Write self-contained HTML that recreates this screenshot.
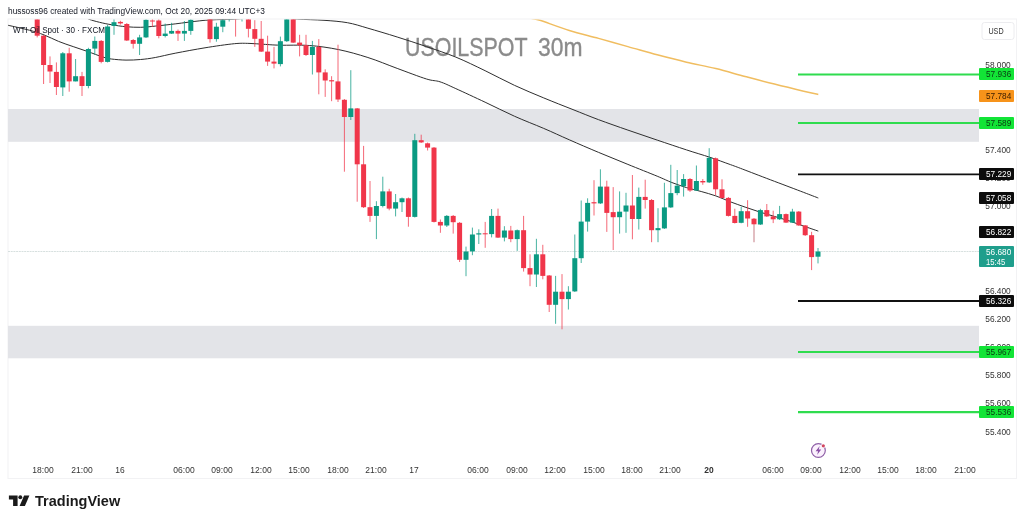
<!DOCTYPE html>
<html><head><meta charset="utf-8"><title>USOILSPOT 30m</title>
<style>
html,body{margin:0;padding:0;background:#fff}
body{width:1024px;height:522px;position:relative;z-index:0;overflow:hidden;font-family:"Liberation Sans","DejaVu Sans",sans-serif}
.t{position:absolute;white-space:nowrap;line-height:1}
.b{position:absolute;left:979.3px;width:35px;border-radius:1px;padding-left:6.3px;text-align:left;font-size:9.4px;white-space:nowrap;box-sizing:border-box;overflow:hidden}
.b span{display:inline-block;transform-origin:left center}
</style></head><body>
<svg width="1024" height="522" viewBox="0 0 1024 522" style="position:absolute;left:0;top:0">
<defs><clipPath id="cp"><rect x="8" y="19.4" width="972" height="459.1"/></clipPath></defs>
<rect x="8" y="19" width="1008.5" height="459.5" fill="none" stroke="#f2f2f4" stroke-width="1"/>
<g clip-path="url(#cp)">
<rect x="8" y="109" width="971" height="32.8" fill="#e3e4e8"/>
<rect x="8" y="325.8" width="971" height="32.5" fill="#e3e4e8"/>
<line x1="8" x2="979" y1="251.5" y2="251.5" stroke="#d3dddb" stroke-width="0.9" stroke-dasharray="2 0.7"/>
<path d="M8.2 25.3C11.7 26.1 23.3 28.6 29.3 30.2C35.3 31.8 39.1 33.0 44.0 34.9C48.9 36.8 53.7 39.4 58.6 41.4C63.5 43.4 68.3 44.9 73.2 46.6C78.1 48.3 83.0 49.9 87.9 51.6C92.8 53.3 98.6 55.7 102.5 56.9C106.4 58.1 107.4 58.5 111.3 59.0C115.2 59.5 121.1 60.0 126.0 60.1C130.9 60.2 135.7 59.9 140.6 59.5C145.5 59.1 149.4 58.6 155.3 57.5C161.2 56.4 167.5 54.7 175.8 53.1C184.1 51.5 195.2 49.4 205.0 47.8C214.8 46.2 227.1 44.4 234.4 43.7C241.7 43.0 244.1 43.3 249.0 43.4C253.9 43.5 258.5 44.0 263.7 44.3C268.9 44.6 272.4 45.0 280.0 45.2C287.6 45.4 299.5 44.8 309.3 45.5C319.1 46.2 328.8 47.6 338.6 49.6C348.4 51.6 358.1 54.4 367.9 57.5C377.7 60.6 387.4 64.8 397.2 68.4C407.0 72.0 419.4 76.8 426.5 79.0C433.6 81.2 435.1 80.2 440.0 81.8C444.9 83.4 448.3 85.2 455.8 88.6C463.3 92.0 475.3 97.6 485.1 102.2C494.9 106.8 504.6 111.8 514.4 116.2C524.2 120.6 534.6 124.5 543.7 128.4C552.9 132.3 560.1 135.8 569.3 139.8C578.4 143.8 588.8 148.3 598.6 152.4C608.4 156.5 618.1 160.4 627.9 164.4C637.7 168.4 649.9 173.2 657.2 176.2C664.5 179.2 666.9 180.6 671.8 182.5C676.7 184.4 681.6 186.1 686.5 187.6C691.4 189.1 696.3 190.1 701.2 191.5C706.1 192.9 710.9 194.2 715.8 195.9C720.7 197.6 725.5 199.9 730.4 201.8C735.3 203.7 740.2 205.4 745.1 207.1C750.0 208.8 754.8 210.4 759.7 212.0C764.6 213.6 769.5 214.9 774.4 216.4C779.3 217.9 784.1 219.2 789.0 220.8C793.9 222.4 798.8 224.4 803.7 226.1C808.6 227.8 815.9 230.3 818.3 231.1" fill="none" stroke="#2e2e2e" stroke-width="1.0"/>
<path d="M86.0 17.0C86.6 17.4 87.1 18.5 89.4 19.4C91.7 20.3 95.9 21.4 99.6 22.3C103.2 23.2 106.9 24.0 111.3 24.7C115.7 25.4 121.1 26.3 126.0 26.7C130.9 27.1 135.7 27.4 140.6 27.3C145.5 27.2 149.4 26.7 155.3 26.1C161.2 25.5 168.5 24.7 175.8 23.8C183.1 22.9 193.3 21.5 199.2 20.9C205.1 20.2 207.2 20.1 211.0 19.9C214.8 19.7 218.5 19.6 222.0 19.5C225.5 19.4 228.7 19.4 232.0 19.3C235.3 19.2 240.3 18.7 242.0 18.6" fill="none" stroke="#2e2e2e" stroke-width="1.0"/>
<path d="M280.0 17.5C282.9 17.8 290.3 18.6 297.6 19.1C304.9 19.6 315.7 19.7 324.0 20.3C332.3 20.9 340.1 21.4 347.4 22.7C354.7 24.0 359.6 25.8 367.9 28.2C376.2 30.6 387.4 33.9 397.2 37.0C407.0 40.1 416.7 43.2 426.5 46.6C436.3 50.0 446.0 53.1 455.8 57.1C465.6 61.1 475.3 66.0 485.1 70.7C494.9 75.4 504.6 80.8 514.4 85.3C524.2 89.8 533.9 93.9 543.7 97.9C553.5 102.0 563.9 106.0 573.0 109.6C582.1 113.2 589.5 116.3 598.6 119.7C607.8 123.1 618.1 126.7 627.9 130.1C637.7 133.5 647.4 136.8 657.2 140.1C667.0 143.4 677.7 147.0 686.5 149.9C695.3 152.8 702.7 154.9 710.0 157.3C717.3 159.8 724.5 162.5 730.4 164.6C736.2 166.7 737.8 167.3 745.1 170.1C752.4 172.9 764.6 177.6 774.4 181.3C784.2 185.0 796.4 189.6 803.7 192.4C811.0 195.2 815.9 197.1 818.3 198.0" fill="none" stroke="#2e2e2e" stroke-width="1.0"/>
<path d="M520.0 14.4C522.0 15.1 528.7 17.5 532.0 18.5C535.3 19.5 533.8 18.3 540.0 20.3C546.2 22.3 559.5 27.5 569.3 30.5C579.1 33.5 588.8 35.7 598.6 38.4C608.4 41.1 618.1 43.9 627.9 46.6C637.7 49.3 647.4 52.2 657.2 54.8C667.0 57.4 676.7 59.9 686.5 62.2C696.3 64.5 706.0 66.2 715.8 68.6C725.6 71.0 735.3 73.9 745.1 76.5C754.9 79.1 764.6 81.7 774.4 84.1C784.2 86.6 796.4 89.5 803.7 91.2C811.0 92.9 815.9 93.9 818.3 94.4" fill="none" stroke="#f0bd60" stroke-width="1.5"/>
<line x1="37.2" x2="37.2" y1="10.0" y2="37.4" stroke="#f0364a" stroke-width="0.75"/>
<rect x="34.7" y="10.0" width="5.0" height="25.7" fill="#f0364a"/>
<line x1="43.6" x2="43.6" y1="35.0" y2="84.0" stroke="#f0364a" stroke-width="0.75"/>
<rect x="41.1" y="35.7" width="5.0" height="29.3" fill="#f0364a"/>
<line x1="50.0" x2="50.0" y1="56.4" y2="83.0" stroke="#f0364a" stroke-width="0.75"/>
<rect x="47.5" y="65.0" width="5.0" height="6.5" fill="#f0364a"/>
<line x1="56.4" x2="56.4" y1="62.4" y2="95.0" stroke="#f0364a" stroke-width="0.75"/>
<rect x="53.9" y="71.9" width="5.0" height="15.1" fill="#f0364a"/>
<line x1="62.8" x2="62.8" y1="52.0" y2="96.0" stroke="#0a9a82" stroke-width="0.75"/>
<rect x="60.3" y="53.3" width="5.0" height="34.1" fill="#0a9a82"/>
<line x1="69.2" x2="69.2" y1="47.8" y2="91.7" stroke="#f0364a" stroke-width="0.75"/>
<rect x="66.7" y="53.3" width="5.0" height="28.1" fill="#f0364a"/>
<line x1="75.6" x2="75.6" y1="59.0" y2="81.4" stroke="#0a9a82" stroke-width="0.75"/>
<rect x="73.1" y="76.2" width="5.0" height="5.2" fill="#0a9a82"/>
<line x1="82.0" x2="82.0" y1="71.9" y2="96.0" stroke="#f0364a" stroke-width="0.75"/>
<rect x="79.5" y="76.2" width="5.0" height="9.8" fill="#f0364a"/>
<line x1="88.4" x2="88.4" y1="47.8" y2="88.3" stroke="#0a9a82" stroke-width="0.75"/>
<rect x="85.9" y="49.0" width="5.0" height="37.0" fill="#0a9a82"/>
<line x1="94.8" x2="94.8" y1="36.5" y2="54.7" stroke="#0a9a82" stroke-width="0.75"/>
<rect x="92.3" y="40.9" width="5.0" height="7.7" fill="#0a9a82"/>
<line x1="101.2" x2="101.2" y1="40.0" y2="63.3" stroke="#f0364a" stroke-width="0.75"/>
<rect x="98.7" y="40.9" width="5.0" height="21.0" fill="#f0364a"/>
<line x1="107.6" x2="107.6" y1="25.0" y2="62.5" stroke="#0a9a82" stroke-width="0.75"/>
<rect x="105.1" y="26.5" width="5.0" height="35.4" fill="#0a9a82"/>
<line x1="114.0" x2="114.0" y1="17.0" y2="34.8" stroke="#0a9a82" stroke-width="0.75"/>
<rect x="111.5" y="22.2" width="5.0" height="3.7" fill="#0a9a82"/>
<line x1="120.4" x2="120.4" y1="20.8" y2="24.6" stroke="#f0364a" stroke-width="0.75"/>
<rect x="117.9" y="21.9" width="5.0" height="1.5" fill="#f0364a"/>
<line x1="126.8" x2="126.8" y1="23.0" y2="41.0" stroke="#f0364a" stroke-width="0.75"/>
<rect x="124.3" y="24.0" width="5.0" height="16.5" fill="#f0364a"/>
<line x1="133.2" x2="133.2" y1="39.0" y2="48.6" stroke="#f0364a" stroke-width="0.75"/>
<rect x="130.7" y="40.0" width="5.0" height="3.8" fill="#f0364a"/>
<line x1="139.6" x2="139.6" y1="34.8" y2="55.0" stroke="#0a9a82" stroke-width="0.75"/>
<rect x="137.1" y="37.4" width="5.0" height="6.4" fill="#0a9a82"/>
<line x1="146.0" x2="146.0" y1="15.0" y2="38.0" stroke="#0a9a82" stroke-width="0.75"/>
<rect x="143.5" y="19.8" width="5.0" height="17.6" fill="#0a9a82"/>
<line x1="152.4" x2="152.4" y1="15.0" y2="27.0" stroke="#f0364a" stroke-width="0.75"/>
<rect x="149.9" y="20.5" width="5.0" height="1.0" fill="#f0364a"/>
<line x1="158.8" x2="158.8" y1="15.0" y2="38.3" stroke="#f0364a" stroke-width="0.75"/>
<rect x="156.3" y="20.5" width="5.0" height="15.5" fill="#f0364a"/>
<line x1="165.2" x2="165.2" y1="23.6" y2="37.4" stroke="#0a9a82" stroke-width="0.75"/>
<rect x="162.7" y="33.6" width="5.0" height="2.4" fill="#0a9a82"/>
<line x1="171.6" x2="171.6" y1="22.8" y2="34.0" stroke="#0a9a82" stroke-width="0.75"/>
<rect x="169.1" y="30.9" width="5.0" height="2.7" fill="#0a9a82"/>
<line x1="178.0" x2="178.0" y1="29.5" y2="40.9" stroke="#f0364a" stroke-width="0.75"/>
<rect x="175.5" y="30.9" width="5.0" height="2.7" fill="#f0364a"/>
<line x1="184.4" x2="184.4" y1="21.0" y2="40.9" stroke="#0a9a82" stroke-width="0.75"/>
<rect x="181.9" y="30.9" width="5.0" height="2.7" fill="#0a9a82"/>
<line x1="190.8" x2="190.8" y1="15.0" y2="34.8" stroke="#0a9a82" stroke-width="0.75"/>
<rect x="188.3" y="19.8" width="5.0" height="11.1" fill="#0a9a82"/>
<line x1="197.2" x2="197.2" y1="2.0" y2="16.0" stroke="#0a9a82" stroke-width="0.75"/>
<rect x="194.7" y="5.0" width="5.0" height="10.0" fill="#0a9a82"/>
<line x1="203.6" x2="203.6" y1="2.0" y2="16.0" stroke="#f0364a" stroke-width="0.75"/>
<rect x="201.1" y="5.0" width="5.0" height="10.0" fill="#f0364a"/>
<line x1="210.0" x2="210.0" y1="10.0" y2="42.6" stroke="#f0364a" stroke-width="0.75"/>
<rect x="207.5" y="15.0" width="5.0" height="24.1" fill="#f0364a"/>
<line x1="216.4" x2="216.4" y1="22.8" y2="41.7" stroke="#0a9a82" stroke-width="0.75"/>
<rect x="213.9" y="26.7" width="5.0" height="12.4" fill="#0a9a82"/>
<line x1="222.8" x2="222.8" y1="15.0" y2="32.2" stroke="#0a9a82" stroke-width="0.75"/>
<rect x="220.3" y="20.2" width="5.0" height="6.5" fill="#0a9a82"/>
<line x1="229.2" x2="229.2" y1="5.0" y2="21.5" stroke="#0a9a82" stroke-width="0.75"/>
<rect x="226.7" y="10.0" width="5.0" height="8.0" fill="#0a9a82"/>
<line x1="235.6" x2="235.6" y1="5.0" y2="36.6" stroke="#f0364a" stroke-width="0.75"/>
<rect x="233.1" y="8.0" width="5.0" height="8.0" fill="#f0364a"/>
<line x1="242.0" x2="242.0" y1="5.0" y2="21.5" stroke="#0a9a82" stroke-width="0.75"/>
<rect x="239.5" y="8.0" width="5.0" height="8.0" fill="#0a9a82"/>
<line x1="248.4" x2="248.4" y1="10.0" y2="37.4" stroke="#f0364a" stroke-width="0.75"/>
<rect x="245.9" y="15.0" width="5.0" height="13.8" fill="#f0364a"/>
<line x1="254.8" x2="254.8" y1="20.2" y2="46.9" stroke="#f0364a" stroke-width="0.75"/>
<rect x="252.3" y="29.1" width="5.0" height="9.7" fill="#f0364a"/>
<line x1="261.2" x2="261.2" y1="21.0" y2="52.0" stroke="#f0364a" stroke-width="0.75"/>
<rect x="258.7" y="38.8" width="5.0" height="12.8" fill="#f0364a"/>
<line x1="267.6" x2="267.6" y1="35.7" y2="65.9" stroke="#f0364a" stroke-width="0.75"/>
<rect x="265.1" y="51.6" width="5.0" height="10.0" fill="#f0364a"/>
<line x1="274.0" x2="274.0" y1="46.9" y2="68.4" stroke="#f0364a" stroke-width="0.75"/>
<rect x="271.5" y="61.6" width="5.0" height="2.0" fill="#f0364a"/>
<line x1="280.4" x2="280.4" y1="36.6" y2="66.4" stroke="#0a9a82" stroke-width="0.75"/>
<rect x="277.9" y="41.2" width="5.0" height="22.9" fill="#0a9a82"/>
<line x1="286.8" x2="286.8" y1="10.0" y2="42.0" stroke="#0a9a82" stroke-width="0.75"/>
<rect x="284.3" y="15.0" width="5.0" height="26.2" fill="#0a9a82"/>
<line x1="293.2" x2="293.2" y1="10.0" y2="43.0" stroke="#f0364a" stroke-width="0.75"/>
<rect x="290.7" y="15.0" width="5.0" height="27.6" fill="#f0364a"/>
<line x1="299.6" x2="299.6" y1="34.8" y2="56.4" stroke="#f0364a" stroke-width="0.75"/>
<rect x="297.1" y="42.6" width="5.0" height="2.6" fill="#f0364a"/>
<line x1="306.0" x2="306.0" y1="34.8" y2="56.0" stroke="#f0364a" stroke-width="0.75"/>
<rect x="303.5" y="45.2" width="5.0" height="9.8" fill="#f0364a"/>
<line x1="312.4" x2="312.4" y1="40.9" y2="74.5" stroke="#0a9a82" stroke-width="0.75"/>
<rect x="309.9" y="46.9" width="5.0" height="8.1" fill="#0a9a82"/>
<line x1="318.8" x2="318.8" y1="39.1" y2="94.3" stroke="#f0364a" stroke-width="0.75"/>
<rect x="316.3" y="46.9" width="5.0" height="25.5" fill="#f0364a"/>
<line x1="325.2" x2="325.2" y1="69.3" y2="96.9" stroke="#f0364a" stroke-width="0.75"/>
<rect x="322.7" y="72.4" width="5.0" height="8.1" fill="#f0364a"/>
<line x1="331.6" x2="331.6" y1="76.2" y2="101.2" stroke="#f0364a" stroke-width="0.75"/>
<rect x="329.1" y="80.2" width="5.0" height="1.2" fill="#f0364a"/>
<line x1="338.0" x2="338.0" y1="44.7" y2="102.0" stroke="#f0364a" stroke-width="0.75"/>
<rect x="335.5" y="81.4" width="5.0" height="18.1" fill="#f0364a"/>
<line x1="344.4" x2="344.4" y1="99.0" y2="171.7" stroke="#f0364a" stroke-width="0.75"/>
<rect x="341.9" y="99.8" width="5.0" height="17.2" fill="#f0364a"/>
<line x1="350.8" x2="350.8" y1="70.2" y2="120.0" stroke="#0a9a82" stroke-width="0.75"/>
<rect x="348.3" y="108.4" width="5.0" height="8.6" fill="#0a9a82"/>
<line x1="357.2" x2="357.2" y1="108.0" y2="201.7" stroke="#f0364a" stroke-width="0.75"/>
<rect x="354.7" y="108.4" width="5.0" height="55.9" fill="#f0364a"/>
<line x1="363.6" x2="363.6" y1="145.9" y2="208.0" stroke="#f0364a" stroke-width="0.75"/>
<rect x="361.1" y="164.3" width="5.0" height="42.9" fill="#f0364a"/>
<line x1="370.0" x2="370.0" y1="181.0" y2="221.9" stroke="#f0364a" stroke-width="0.75"/>
<rect x="367.5" y="207.2" width="5.0" height="8.7" fill="#f0364a"/>
<line x1="376.4" x2="376.4" y1="201.2" y2="239.1" stroke="#0a9a82" stroke-width="0.75"/>
<rect x="373.9" y="206.0" width="5.0" height="9.9" fill="#0a9a82"/>
<line x1="382.8" x2="382.8" y1="176.7" y2="207.4" stroke="#0a9a82" stroke-width="0.75"/>
<rect x="380.3" y="191.4" width="5.0" height="14.6" fill="#0a9a82"/>
<line x1="389.2" x2="389.2" y1="188.8" y2="210.3" stroke="#f0364a" stroke-width="0.75"/>
<rect x="386.7" y="191.4" width="5.0" height="17.2" fill="#f0364a"/>
<line x1="395.6" x2="395.6" y1="194.0" y2="216.4" stroke="#0a9a82" stroke-width="0.75"/>
<rect x="393.1" y="202.2" width="5.0" height="6.4" fill="#0a9a82"/>
<line x1="402.0" x2="402.0" y1="197.5" y2="212.0" stroke="#0a9a82" stroke-width="0.75"/>
<rect x="399.5" y="198.3" width="5.0" height="3.9" fill="#0a9a82"/>
<line x1="408.4" x2="408.4" y1="197.5" y2="226.7" stroke="#f0364a" stroke-width="0.75"/>
<rect x="405.9" y="198.3" width="5.0" height="18.6" fill="#f0364a"/>
<line x1="414.8" x2="414.8" y1="133.8" y2="217.5" stroke="#0a9a82" stroke-width="0.75"/>
<rect x="412.3" y="140.2" width="5.0" height="76.7" fill="#0a9a82"/>
<line x1="421.2" x2="421.2" y1="134.7" y2="143.0" stroke="#f0364a" stroke-width="0.75"/>
<rect x="418.7" y="140.2" width="5.0" height="2.2" fill="#f0364a"/>
<line x1="427.6" x2="427.6" y1="142.5" y2="150.5" stroke="#f0364a" stroke-width="0.75"/>
<rect x="425.1" y="143.3" width="5.0" height="4.3" fill="#f0364a"/>
<line x1="434.0" x2="434.0" y1="147.0" y2="222.5" stroke="#f0364a" stroke-width="0.75"/>
<rect x="431.5" y="147.6" width="5.0" height="74.3" fill="#f0364a"/>
<line x1="440.4" x2="440.4" y1="219.5" y2="232.8" stroke="#f0364a" stroke-width="0.75"/>
<rect x="437.9" y="221.9" width="5.0" height="3.6" fill="#f0364a"/>
<line x1="446.8" x2="446.8" y1="215.0" y2="227.0" stroke="#0a9a82" stroke-width="0.75"/>
<rect x="444.3" y="215.9" width="5.0" height="9.6" fill="#0a9a82"/>
<line x1="453.2" x2="453.2" y1="215.0" y2="233.6" stroke="#f0364a" stroke-width="0.75"/>
<rect x="450.7" y="215.9" width="5.0" height="6.3" fill="#f0364a"/>
<line x1="459.6" x2="459.6" y1="222.0" y2="262.0" stroke="#f0364a" stroke-width="0.75"/>
<rect x="457.1" y="222.8" width="5.0" height="37.0" fill="#f0364a"/>
<line x1="466.0" x2="466.0" y1="246.6" y2="276.2" stroke="#0a9a82" stroke-width="0.75"/>
<rect x="463.5" y="251.5" width="5.0" height="8.3" fill="#0a9a82"/>
<line x1="472.4" x2="472.4" y1="227.6" y2="255.2" stroke="#0a9a82" stroke-width="0.75"/>
<rect x="469.9" y="234.5" width="5.0" height="16.9" fill="#0a9a82"/>
<line x1="478.8" x2="478.8" y1="229.3" y2="244.0" stroke="#0a9a82" stroke-width="0.75"/>
<rect x="476.3" y="233.3" width="5.0" height="1.2" fill="#0a9a82"/>
<line x1="485.2" x2="485.2" y1="221.9" y2="247.8" stroke="#f0364a" stroke-width="0.75"/>
<rect x="482.7" y="233.3" width="5.0" height="1.0" fill="#f0364a"/>
<line x1="491.6" x2="491.6" y1="209.0" y2="237.4" stroke="#0a9a82" stroke-width="0.75"/>
<rect x="489.1" y="215.9" width="5.0" height="18.2" fill="#0a9a82"/>
<line x1="498.0" x2="498.0" y1="208.6" y2="238.0" stroke="#f0364a" stroke-width="0.75"/>
<rect x="495.5" y="215.9" width="5.0" height="21.7" fill="#f0364a"/>
<line x1="504.4" x2="504.4" y1="226.2" y2="241.4" stroke="#0a9a82" stroke-width="0.75"/>
<rect x="501.9" y="230.5" width="5.0" height="7.1" fill="#0a9a82"/>
<line x1="510.8" x2="510.8" y1="225.9" y2="242.2" stroke="#f0364a" stroke-width="0.75"/>
<rect x="508.3" y="230.5" width="5.0" height="8.6" fill="#f0364a"/>
<line x1="517.2" x2="517.2" y1="229.5" y2="250.9" stroke="#0a9a82" stroke-width="0.75"/>
<rect x="514.7" y="230.2" width="5.0" height="8.9" fill="#0a9a82"/>
<line x1="523.6" x2="523.6" y1="215.9" y2="271.6" stroke="#f0364a" stroke-width="0.75"/>
<rect x="521.1" y="230.2" width="5.0" height="37.9" fill="#f0364a"/>
<line x1="530.0" x2="530.0" y1="254.3" y2="286.2" stroke="#f0364a" stroke-width="0.75"/>
<rect x="527.5" y="268.1" width="5.0" height="6.4" fill="#f0364a"/>
<line x1="536.4" x2="536.4" y1="238.8" y2="287.0" stroke="#0a9a82" stroke-width="0.75"/>
<rect x="533.9" y="254.3" width="5.0" height="20.2" fill="#0a9a82"/>
<line x1="542.8" x2="542.8" y1="244.8" y2="279.3" stroke="#f0364a" stroke-width="0.75"/>
<rect x="540.3" y="254.3" width="5.0" height="21.6" fill="#f0364a"/>
<line x1="549.2" x2="549.2" y1="275.0" y2="312.0" stroke="#f0364a" stroke-width="0.75"/>
<rect x="546.7" y="275.5" width="5.0" height="29.3" fill="#f0364a"/>
<line x1="555.6" x2="555.6" y1="275.9" y2="323.8" stroke="#0a9a82" stroke-width="0.75"/>
<rect x="553.1" y="291.7" width="5.0" height="13.1" fill="#0a9a82"/>
<line x1="562.0" x2="562.0" y1="274.1" y2="329.3" stroke="#f0364a" stroke-width="0.75"/>
<rect x="559.5" y="291.7" width="5.0" height="7.4" fill="#f0364a"/>
<line x1="568.4" x2="568.4" y1="286.2" y2="309.5" stroke="#0a9a82" stroke-width="0.75"/>
<rect x="565.9" y="291.7" width="5.0" height="7.4" fill="#0a9a82"/>
<line x1="574.8" x2="574.8" y1="234.5" y2="292.0" stroke="#0a9a82" stroke-width="0.75"/>
<rect x="572.3" y="258.2" width="5.0" height="33.2" fill="#0a9a82"/>
<line x1="581.2" x2="581.2" y1="200.5" y2="263.0" stroke="#0a9a82" stroke-width="0.75"/>
<rect x="578.7" y="221.6" width="5.0" height="36.6" fill="#0a9a82"/>
<line x1="587.6" x2="587.6" y1="198.3" y2="231.6" stroke="#0a9a82" stroke-width="0.75"/>
<rect x="585.1" y="202.9" width="5.0" height="18.7" fill="#0a9a82"/>
<line x1="594.0" x2="594.0" y1="180.2" y2="215.5" stroke="#f0364a" stroke-width="0.75"/>
<rect x="591.5" y="202.2" width="5.0" height="1.2" fill="#f0364a"/>
<line x1="600.4" x2="600.4" y1="169.3" y2="204.0" stroke="#0a9a82" stroke-width="0.75"/>
<rect x="597.9" y="186.6" width="5.0" height="16.8" fill="#0a9a82"/>
<line x1="606.8" x2="606.8" y1="180.7" y2="231.9" stroke="#f0364a" stroke-width="0.75"/>
<rect x="604.3" y="186.6" width="5.0" height="26.3" fill="#f0364a"/>
<line x1="613.2" x2="613.2" y1="187.1" y2="250.0" stroke="#f0364a" stroke-width="0.75"/>
<rect x="610.7" y="212.1" width="5.0" height="5.1" fill="#f0364a"/>
<line x1="619.6" x2="619.6" y1="191.4" y2="233.6" stroke="#0a9a82" stroke-width="0.75"/>
<rect x="617.1" y="211.7" width="5.0" height="5.5" fill="#0a9a82"/>
<line x1="626.0" x2="626.0" y1="192.8" y2="232.8" stroke="#0a9a82" stroke-width="0.75"/>
<rect x="623.5" y="205.5" width="5.0" height="6.1" fill="#0a9a82"/>
<line x1="632.4" x2="632.4" y1="175.0" y2="239.3" stroke="#f0364a" stroke-width="0.75"/>
<rect x="629.9" y="205.5" width="5.0" height="13.5" fill="#f0364a"/>
<line x1="638.8" x2="638.8" y1="187.6" y2="229.5" stroke="#0a9a82" stroke-width="0.75"/>
<rect x="636.3" y="196.9" width="5.0" height="22.1" fill="#0a9a82"/>
<line x1="645.2" x2="645.2" y1="179.7" y2="208.6" stroke="#f0364a" stroke-width="0.75"/>
<rect x="642.7" y="196.9" width="5.0" height="3.1" fill="#f0364a"/>
<line x1="651.6" x2="651.6" y1="199.0" y2="242.2" stroke="#f0364a" stroke-width="0.75"/>
<rect x="649.1" y="200.0" width="5.0" height="30.2" fill="#f0364a"/>
<line x1="658.0" x2="658.0" y1="208.2" y2="242.2" stroke="#0a9a82" stroke-width="0.75"/>
<rect x="655.5" y="228.1" width="5.0" height="2.1" fill="#0a9a82"/>
<line x1="664.4" x2="664.4" y1="182.8" y2="229.0" stroke="#0a9a82" stroke-width="0.75"/>
<rect x="661.9" y="207.4" width="5.0" height="21.0" fill="#0a9a82"/>
<line x1="670.8" x2="670.8" y1="164.8" y2="208.0" stroke="#0a9a82" stroke-width="0.75"/>
<rect x="668.3" y="193.1" width="5.0" height="14.3" fill="#0a9a82"/>
<line x1="677.2" x2="677.2" y1="170.0" y2="195.2" stroke="#0a9a82" stroke-width="0.75"/>
<rect x="674.7" y="185.7" width="5.0" height="7.4" fill="#0a9a82"/>
<line x1="683.6" x2="683.6" y1="174.1" y2="196.6" stroke="#0a9a82" stroke-width="0.75"/>
<rect x="681.1" y="179.0" width="5.0" height="7.2" fill="#0a9a82"/>
<line x1="690.0" x2="690.0" y1="178.0" y2="191.9" stroke="#f0364a" stroke-width="0.75"/>
<rect x="687.5" y="179.0" width="5.0" height="11.5" fill="#f0364a"/>
<line x1="696.4" x2="696.4" y1="165.5" y2="191.0" stroke="#0a9a82" stroke-width="0.75"/>
<rect x="693.9" y="181.0" width="5.0" height="9.5" fill="#0a9a82"/>
<line x1="702.8" x2="702.8" y1="179.0" y2="184.8" stroke="#f0364a" stroke-width="0.75"/>
<rect x="700.3" y="181.0" width="5.0" height="1.4" fill="#f0364a"/>
<line x1="709.2" x2="709.2" y1="148.2" y2="183.0" stroke="#0a9a82" stroke-width="0.75"/>
<rect x="706.7" y="157.8" width="5.0" height="24.6" fill="#0a9a82"/>
<line x1="715.6" x2="715.6" y1="157.5" y2="195.2" stroke="#f0364a" stroke-width="0.75"/>
<rect x="713.1" y="158.3" width="5.0" height="31.0" fill="#f0364a"/>
<line x1="722.0" x2="722.0" y1="179.3" y2="198.5" stroke="#f0364a" stroke-width="0.75"/>
<rect x="719.5" y="189.3" width="5.0" height="8.7" fill="#f0364a"/>
<line x1="728.4" x2="728.4" y1="197.0" y2="216.5" stroke="#f0364a" stroke-width="0.75"/>
<rect x="725.9" y="197.9" width="5.0" height="18.0" fill="#f0364a"/>
<line x1="734.8" x2="734.8" y1="208.7" y2="223.5" stroke="#f0364a" stroke-width="0.75"/>
<rect x="732.3" y="215.9" width="5.0" height="7.1" fill="#f0364a"/>
<line x1="741.2" x2="741.2" y1="206.8" y2="223.3" stroke="#0a9a82" stroke-width="0.75"/>
<rect x="738.7" y="211.2" width="5.0" height="11.6" fill="#0a9a82"/>
<line x1="747.6" x2="747.6" y1="200.2" y2="226.8" stroke="#f0364a" stroke-width="0.75"/>
<rect x="745.1" y="211.2" width="5.0" height="7.3" fill="#f0364a"/>
<line x1="754.0" x2="754.0" y1="224.3" y2="242.3" stroke="#d6a3a8" stroke-width="1.4"/>
<line x1="754.0" x2="754.0" y1="218.0" y2="224.3" stroke="#f0364a" stroke-width="0.75"/>
<rect x="751.5" y="218.7" width="5.0" height="5.6" fill="#f0364a"/>
<line x1="760.4" x2="760.4" y1="208.8" y2="225.0" stroke="#0a9a82" stroke-width="0.75"/>
<rect x="757.9" y="210.1" width="5.0" height="14.4" fill="#0a9a82"/>
<line x1="766.8" x2="766.8" y1="204.0" y2="217.0" stroke="#f0364a" stroke-width="0.75"/>
<rect x="764.3" y="210.1" width="5.0" height="6.3" fill="#f0364a"/>
<line x1="773.2" x2="773.2" y1="210.7" y2="223.1" stroke="#f0364a" stroke-width="0.75"/>
<rect x="770.7" y="216.4" width="5.0" height="2.9" fill="#f0364a"/>
<line x1="779.6" x2="779.6" y1="205.9" y2="220.0" stroke="#0a9a82" stroke-width="0.75"/>
<rect x="777.1" y="214.1" width="5.0" height="5.2" fill="#0a9a82"/>
<line x1="786.0" x2="786.0" y1="213.5" y2="223.0" stroke="#f0364a" stroke-width="0.75"/>
<rect x="783.5" y="214.1" width="5.0" height="8.5" fill="#f0364a"/>
<line x1="792.4" x2="792.4" y1="208.8" y2="223.0" stroke="#0a9a82" stroke-width="0.75"/>
<rect x="789.9" y="211.6" width="5.0" height="11.0" fill="#0a9a82"/>
<line x1="798.8" x2="798.8" y1="211.0" y2="226.0" stroke="#f0364a" stroke-width="0.75"/>
<rect x="796.3" y="211.6" width="5.0" height="13.8" fill="#f0364a"/>
<line x1="805.2" x2="805.2" y1="225.0" y2="236.0" stroke="#f0364a" stroke-width="0.75"/>
<rect x="802.7" y="225.4" width="5.0" height="9.8" fill="#f0364a"/>
<line x1="811.6" x2="811.6" y1="231.8" y2="270.1" stroke="#f0364a" stroke-width="0.75"/>
<rect x="809.1" y="235.2" width="5.0" height="21.9" fill="#f0364a"/>
<line x1="818.0" x2="818.0" y1="248.0" y2="263.4" stroke="#0a9a82" stroke-width="0.75"/>
<rect x="815.5" y="251.5" width="5.0" height="5.2" fill="#0a9a82"/>
</g>
<line x1="798" x2="980" y1="74.5" y2="74.5" stroke="#2fdc4e" stroke-width="2.2"/>
<line x1="798" x2="980" y1="123.0" y2="123.0" stroke="#2fdc4e" stroke-width="2.2"/>
<line x1="798" x2="980" y1="174.3" y2="174.3" stroke="#111" stroke-width="1.8"/>
<line x1="798" x2="980" y1="301.0" y2="301.0" stroke="#111" stroke-width="1.8"/>
<line x1="798" x2="980" y1="352.0" y2="352.0" stroke="#2fdc4e" stroke-width="2.2"/>
<line x1="798" x2="980" y1="412.2" y2="412.2" stroke="#2fdc4e" stroke-width="2.2"/>
<rect x="982" y="22.5" width="32" height="17" rx="2.5" fill="#fff" stroke="#ececef" stroke-width="1"/>
<g transform="translate(818.4,450.5)"><circle r="6.9" fill="#fbf1fd" stroke="#8e5ea6" stroke-width="1.2"/><path d="M1.3 -4.4 L-2.8 0.7 L-0.3 0.7 L-1.3 4.4 L2.8 -0.9 L0.3 -0.9 Z" fill="#8a4fa6"/><circle cx="4.9" cy="-4.7" r="2.3" fill="#fff"/><circle cx="4.9" cy="-4.7" r="1.6" fill="#d2455f"/></g>
<g fill="#1a1a1a"><path d="M8.9 495.4h8.7v10.5h-4.5v-6.3H8.9z"/><circle cx="20.3" cy="497.3" r="1.95"/><path d="M24.1 495.4h5.3l-4.5 10.5h-5.3z"/></g>
</svg>
<div class="t" style="left:7.8px;top:11.9px;font-size:9.2px;color:#131722;font-weight:normal;letter-spacing:0px;transform:translate(0,-50%) scaleX(0.9064);transform-origin:left center;">hussoss96 created with TradingView.com, Oct 20, 2025 09:44 UTC+3</div>
<div class="t" style="left:13.2px;top:30.3px;font-size:9px;color:#131722;font-weight:normal;letter-spacing:0px;transform:translate(0,-50%) scaleX(0.8974);transform-origin:left center;">WTI Oil Spot · 30 · FXCM</div>
<div class="t" style="left:404.5px;top:47.3px;font-size:25px;color:#8b8b8b;font-weight:normal;letter-spacing:0px;transform:translate(0,-50%) scaleX(0.8561);z-index:-1;-webkit-text-stroke:0.35px #8b8b8b;transform-origin:left center;">USOILSPOT</div>
<div class="t" style="left:537.5px;top:47.3px;font-size:25px;color:#8b8b8b;font-weight:normal;letter-spacing:0px;transform:translate(0,-50%) scaleX(0.9149);z-index:-1;-webkit-text-stroke:0.35px #8b8b8b;transform-origin:left center;">30m</div>
<div class="t" style="left:995.7px;top:30.8px;font-size:8.8px;color:#333;font-weight:normal;letter-spacing:0px;transform:translate(-50%,-50%) scaleX(0.8128);transform-origin:center;">USD</div>
<div class="t" style="left:998.0px;top:64.9px;font-size:9.4px;color:#333;font-weight:normal;letter-spacing:0px;transform:translate(-50%,-50%) scaleX(0.8889);transform-origin:center;">58.000</div>
<div class="t" style="left:998.0px;top:149.5px;font-size:9.4px;color:#333;font-weight:normal;letter-spacing:0px;transform:translate(-50%,-50%) scaleX(0.8889);transform-origin:center;">57.400</div>
<div class="t" style="left:998.0px;top:177.7px;font-size:9.4px;color:#333;font-weight:normal;letter-spacing:0px;transform:translate(-50%,-50%) scaleX(0.8889);transform-origin:center;">57.200</div>
<div class="t" style="left:998.0px;top:205.9px;font-size:9.4px;color:#333;font-weight:normal;letter-spacing:0px;transform:translate(-50%,-50%) scaleX(0.8889);transform-origin:center;">57.000</div>
<div class="t" style="left:998.0px;top:290.5px;font-size:9.4px;color:#333;font-weight:normal;letter-spacing:0px;transform:translate(-50%,-50%) scaleX(0.8889);transform-origin:center;">56.400</div>
<div class="t" style="left:998.0px;top:318.7px;font-size:9.4px;color:#333;font-weight:normal;letter-spacing:0px;transform:translate(-50%,-50%) scaleX(0.8889);transform-origin:center;">56.200</div>
<div class="t" style="left:998.0px;top:346.9px;font-size:9.4px;color:#333;font-weight:normal;letter-spacing:0px;transform:translate(-50%,-50%) scaleX(0.8889);transform-origin:center;">56.000</div>
<div class="t" style="left:998.0px;top:375.1px;font-size:9.4px;color:#333;font-weight:normal;letter-spacing:0px;transform:translate(-50%,-50%) scaleX(0.8889);transform-origin:center;">55.800</div>
<div class="t" style="left:998.0px;top:403.3px;font-size:9.4px;color:#333;font-weight:normal;letter-spacing:0px;transform:translate(-50%,-50%) scaleX(0.8889);transform-origin:center;">55.600</div>
<div class="t" style="left:998.0px;top:431.5px;font-size:9.4px;color:#333;font-weight:normal;letter-spacing:0px;transform:translate(-50%,-50%) scaleX(0.8889);transform-origin:center;">55.400</div>
<div class="b" style="top:68.3px;height:11.8px;line-height:11.8px;background:#12e436;color:#0a3a12"><span style="transform:scaleX(0.880)">57.936</span></div>
<div class="b" style="top:90.3px;height:11.8px;line-height:11.8px;background:#f7931a;color:#3a1c00"><span style="transform:scaleX(0.880)">57.784</span></div>
<div class="b" style="top:116.8px;height:11.8px;line-height:11.8px;background:#12e436;color:#0a3a12"><span style="transform:scaleX(0.880)">57.589</span></div>
<div class="b" style="top:168.1px;height:11.8px;line-height:11.8px;background:#0c0c0c;color:#fff"><span style="transform:scaleX(0.880)">57.229</span></div>
<div class="b" style="top:192.1px;height:11.8px;line-height:11.8px;background:#0c0c0c;color:#fff"><span style="transform:scaleX(0.880)">57.058</span></div>
<div class="b" style="top:225.8px;height:11.8px;line-height:11.8px;background:#0c0c0c;color:#fff"><span style="transform:scaleX(0.880)">56.822</span></div>
<div class="b" style="top:245.8px;height:21.2px;background:#1f9e8c;color:#fff;line-height:9.6px;padding-top:1.2px"><span style="transform:scaleX(0.880)">56.680</span><br><span style="transform:scaleX(0.816)">15:45</span></div>
<div class="b" style="top:295.0px;height:11.8px;line-height:11.8px;background:#0c0c0c;color:#fff"><span style="transform:scaleX(0.880)">56.326</span></div>
<div class="b" style="top:345.8px;height:11.8px;line-height:11.8px;background:#12e436;color:#0a3a12"><span style="transform:scaleX(0.880)">55.967</span></div>
<div class="b" style="top:406.2px;height:11.8px;line-height:11.8px;background:#12e436;color:#0a3a12"><span style="transform:scaleX(0.880)">55.536</span></div>
<div class="t" style="left:43.1px;top:470.0px;font-size:9.4px;color:#333;font-weight:normal;letter-spacing:0px;transform:translate(-50%,-50%) scaleX(0.9076);transform-origin:center;">18:00</div>
<div class="t" style="left:81.5px;top:470.0px;font-size:9.4px;color:#333;font-weight:normal;letter-spacing:0px;transform:translate(-50%,-50%) scaleX(0.9076);transform-origin:center;">21:00</div>
<div class="t" style="left:119.9px;top:470.0px;font-size:9.4px;color:#333;font-weight:normal;letter-spacing:0px;transform:translate(-50%,-50%) scaleX(0.9006);transform-origin:center;">16</div>
<div class="t" style="left:183.9px;top:470.0px;font-size:9.4px;color:#333;font-weight:normal;letter-spacing:0px;transform:translate(-50%,-50%) scaleX(0.9076);transform-origin:center;">06:00</div>
<div class="t" style="left:222.3px;top:470.0px;font-size:9.4px;color:#333;font-weight:normal;letter-spacing:0px;transform:translate(-50%,-50%) scaleX(0.9076);transform-origin:center;">09:00</div>
<div class="t" style="left:260.7px;top:470.0px;font-size:9.4px;color:#333;font-weight:normal;letter-spacing:0px;transform:translate(-50%,-50%) scaleX(0.9076);transform-origin:center;">12:00</div>
<div class="t" style="left:299.1px;top:470.0px;font-size:9.4px;color:#333;font-weight:normal;letter-spacing:0px;transform:translate(-50%,-50%) scaleX(0.9076);transform-origin:center;">15:00</div>
<div class="t" style="left:337.5px;top:470.0px;font-size:9.4px;color:#333;font-weight:normal;letter-spacing:0px;transform:translate(-50%,-50%) scaleX(0.9076);transform-origin:center;">18:00</div>
<div class="t" style="left:375.9px;top:470.0px;font-size:9.4px;color:#333;font-weight:normal;letter-spacing:0px;transform:translate(-50%,-50%) scaleX(0.9076);transform-origin:center;">21:00</div>
<div class="t" style="left:414.3px;top:470.0px;font-size:9.4px;color:#333;font-weight:normal;letter-spacing:0px;transform:translate(-50%,-50%) scaleX(0.9006);transform-origin:center;">17</div>
<div class="t" style="left:478.3px;top:470.0px;font-size:9.4px;color:#333;font-weight:normal;letter-spacing:0px;transform:translate(-50%,-50%) scaleX(0.9076);transform-origin:center;">06:00</div>
<div class="t" style="left:516.7px;top:470.0px;font-size:9.4px;color:#333;font-weight:normal;letter-spacing:0px;transform:translate(-50%,-50%) scaleX(0.9076);transform-origin:center;">09:00</div>
<div class="t" style="left:555.1px;top:470.0px;font-size:9.4px;color:#333;font-weight:normal;letter-spacing:0px;transform:translate(-50%,-50%) scaleX(0.9076);transform-origin:center;">12:00</div>
<div class="t" style="left:593.5px;top:470.0px;font-size:9.4px;color:#333;font-weight:normal;letter-spacing:0px;transform:translate(-50%,-50%) scaleX(0.9076);transform-origin:center;">15:00</div>
<div class="t" style="left:631.9px;top:470.0px;font-size:9.4px;color:#333;font-weight:normal;letter-spacing:0px;transform:translate(-50%,-50%) scaleX(0.9076);transform-origin:center;">18:00</div>
<div class="t" style="left:670.3px;top:470.0px;font-size:9.4px;color:#333;font-weight:normal;letter-spacing:0px;transform:translate(-50%,-50%) scaleX(0.9076);transform-origin:center;">21:00</div>
<div class="t" style="left:708.7px;top:470.0px;font-size:9.4px;color:#333;font-weight:bold;letter-spacing:0px;transform:translate(-50%,-50%) scaleX(0.9006);transform-origin:center;">20</div>
<div class="t" style="left:772.7px;top:470.0px;font-size:9.4px;color:#333;font-weight:normal;letter-spacing:0px;transform:translate(-50%,-50%) scaleX(0.9076);transform-origin:center;">06:00</div>
<div class="t" style="left:811.1px;top:470.0px;font-size:9.4px;color:#333;font-weight:normal;letter-spacing:0px;transform:translate(-50%,-50%) scaleX(0.9076);transform-origin:center;">09:00</div>
<div class="t" style="left:849.5px;top:470.0px;font-size:9.4px;color:#333;font-weight:normal;letter-spacing:0px;transform:translate(-50%,-50%) scaleX(0.9076);transform-origin:center;">12:00</div>
<div class="t" style="left:887.9px;top:470.0px;font-size:9.4px;color:#333;font-weight:normal;letter-spacing:0px;transform:translate(-50%,-50%) scaleX(0.9076);transform-origin:center;">15:00</div>
<div class="t" style="left:926.3px;top:470.0px;font-size:9.4px;color:#333;font-weight:normal;letter-spacing:0px;transform:translate(-50%,-50%) scaleX(0.9076);transform-origin:center;">18:00</div>
<div class="t" style="left:964.7px;top:470.0px;font-size:9.4px;color:#333;font-weight:normal;letter-spacing:0px;transform:translate(-50%,-50%) scaleX(0.9076);transform-origin:center;">21:00</div>
<div class="t" style="left:35.0px;top:501.3px;font-size:14.4px;color:#1a1a1a;font-weight:bold;letter-spacing:0px;transform:translate(0,-50%) scaleX(1.0081);transform-origin:left center;">TradingView</div>
</body></html>
